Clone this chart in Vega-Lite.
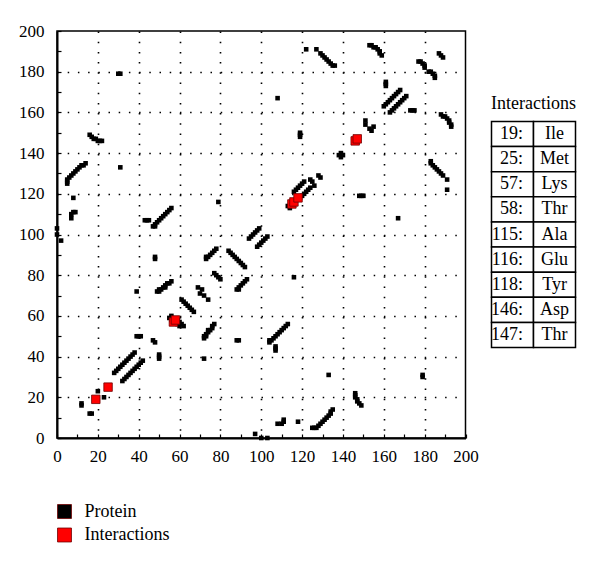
{
  "$schema": "https://vega.github.io/schema/vega-lite/v6.json",
  "background": "white",
  "padding": {"left": 17, "top": 21, "right": 5, "bottom": 5},
  "bounds": "flush",
  "center": true,
  "spacing": 25.5,
  "config": {
    "font": "Liberation Serif",
    "view": {"stroke": "black", "strokeWidth": 1.5}
  },
  "datasets": {
    "prot": [
      {"i":30,"j":179},{"i":31,"j":179},{"i":179,"j":30},{"i":179,"j":31},
      {"i":16,"j":149},{"i":17,"j":148},{"i":18,"j":147},{"i":19,"j":147},{"i":20,"j":146},{"i":21,"j":146},{"i":22,"j":146},
      {"i":149,"j":16},{"i":148,"j":17},{"i":147,"j":18},{"i":147,"j":19},{"i":146,"j":20},{"i":146,"j":21},{"i":146,"j":22},
      {"i":5,"j":125},{"i":5,"j":126},{"i":5,"j":127},{"i":6,"j":128},{"i":7,"j":129},{"i":8,"j":130},{"i":9,"j":131},{"i":10,"j":132},{"i":11,"j":133},{"i":12,"j":134},{"i":13,"j":134},{"i":14,"j":135},
      {"i":125,"j":5},{"i":126,"j":5},{"i":127,"j":5},{"i":128,"j":6},{"i":129,"j":7},{"i":130,"j":8},{"i":131,"j":9},{"i":132,"j":10},{"i":133,"j":11},{"i":134,"j":12},{"i":134,"j":13},{"i":135,"j":14},
      {"i":31,"j":133},{"i":133,"j":31},
      {"i":8,"j":118},{"i":118,"j":8},
      {"i":7,"j":108},{"i":7,"j":110},{"i":8,"j":111},{"i":9,"j":111},{"i":108,"j":7},{"i":110,"j":7},{"i":111,"j":8},{"i":111,"j":9},
      {"i":0,"j":103},{"i":0,"j":100},{"i":2,"j":97},{"i":103,"j":0},{"i":100,"j":0},{"i":97,"j":2},
      {"i":43,"j":107},{"i":44,"j":107},{"i":45,"j":107},{"i":107,"j":43},{"i":107,"j":44},{"i":107,"j":45},
      {"i":47,"j":104},{"i":48,"j":104},{"i":48,"j":105},{"i":49,"j":106},{"i":50,"j":107},{"i":51,"j":108},{"i":52,"j":109},{"i":53,"j":110},{"i":54,"j":111},{"i":55,"j":112},{"i":56,"j":113},
      {"i":104,"j":47},{"i":104,"j":48},{"i":105,"j":48},{"i":106,"j":49},{"i":107,"j":50},{"i":108,"j":51},{"i":109,"j":52},{"i":110,"j":53},{"i":111,"j":54},{"i":112,"j":55},{"i":113,"j":56},
      {"i":48,"j":88},{"i":48,"j":89},{"i":88,"j":48},{"i":89,"j":48},
      {"i":39,"j":72},{"i":72,"j":39},
      {"i":49,"j":72},{"i":50,"j":72},{"i":50,"j":73},{"i":51,"j":73},{"i":52,"j":74},{"i":53,"j":74},{"i":53,"j":75},{"i":54,"j":76},{"i":55,"j":76},{"i":56,"j":77},
      {"i":72,"j":49},{"i":72,"j":50},{"i":73,"j":50},{"i":73,"j":51},{"i":74,"j":52},{"i":74,"j":53},{"i":75,"j":53},{"i":76,"j":54},{"i":76,"j":55},{"i":77,"j":56},
      {"i":61,"j":68},{"i":62,"j":67},{"i":63,"j":66},{"i":64,"j":65},{"i":65,"j":64},{"i":66,"j":63},{"i":67,"j":62},
      {"i":69,"j":74},{"i":71,"j":73},{"i":70,"j":71},{"i":72,"j":70},{"i":74,"j":68},
      {"i":73,"j":88},{"i":73,"j":89},{"i":74,"j":89},{"i":75,"j":90},{"i":76,"j":91},{"i":77,"j":92},{"i":78,"j":93},
      {"i":88,"j":73},{"i":89,"j":73},{"i":89,"j":74},{"i":90,"j":75},{"i":91,"j":76},{"i":92,"j":77},{"i":93,"j":78},
      {"i":84,"j":92},{"i":85,"j":91},{"i":86,"j":90},{"i":87,"j":89},{"i":88,"j":88},{"i":89,"j":87},{"i":90,"j":86},{"i":91,"j":85},{"i":92,"j":84},
      {"i":77,"j":81},{"i":78,"j":80},{"i":79,"j":79},{"i":80,"j":78},
      {"i":79,"j":116},{"i":116,"j":79},
      {"i":94,"j":98},{"i":95,"j":99},{"i":96,"j":100},{"i":97,"j":101},{"i":98,"j":102},{"i":99,"j":103},
      {"i":98,"j":94},{"i":99,"j":95},{"i":100,"j":96},{"i":101,"j":97},{"i":102,"j":98},{"i":103,"j":99},
      {"i":108,"j":167},{"i":167,"j":108},
      {"i":119,"j":148},{"i":119,"j":149},{"i":119,"j":150},{"i":148,"j":119},{"i":149,"j":119},{"i":150,"j":119},
      {"i":122,"j":191},{"i":127,"j":191},{"i":129,"j":189},{"i":130,"j":188},{"i":131,"j":187},{"i":132,"j":186},{"i":133,"j":185},{"i":134,"j":184},{"i":135,"j":183},{"i":136,"j":183},
      {"i":191,"j":122},{"i":191,"j":127},{"i":189,"j":129},{"i":188,"j":130},{"i":187,"j":131},{"i":186,"j":132},{"i":185,"j":133},{"i":184,"j":134},{"i":183,"j":135},{"i":183,"j":136},
      {"i":153,"j":193},{"i":154,"j":193},{"i":155,"j":192},{"i":156,"j":192},{"i":157,"j":191},{"i":158,"j":190},{"i":158,"j":189},{"i":159,"j":188},
      {"i":193,"j":153},{"i":193,"j":154},{"i":192,"j":155},{"i":192,"j":156},{"i":191,"j":157},{"i":190,"j":158},{"i":189,"j":158},{"i":188,"j":159},
      {"i":187,"j":189},{"i":188,"j":188},{"i":189,"j":187},
      {"i":180,"j":182},{"i":180,"j":183},{"i":179,"j":184},{"i":178,"j":185},{"i":177,"j":185},
      {"i":182,"j":180},{"i":183,"j":180},{"i":184,"j":179},{"i":185,"j":178},{"i":185,"j":177},
      {"i":161,"j":173},{"i":161,"j":174},{"i":161,"j":175},{"i":173,"j":161},{"i":174,"j":161},{"i":175,"j":161},
      {"i":160,"j":163},{"i":161,"j":164},{"i":162,"j":165},{"i":163,"j":166},{"i":164,"j":167},{"i":165,"j":168},{"i":166,"j":169},{"i":167,"j":170},{"i":168,"j":171},
      {"i":163,"j":160},{"i":164,"j":161},{"i":165,"j":162},{"i":166,"j":163},{"i":167,"j":164},{"i":168,"j":165},{"i":169,"j":166},{"i":170,"j":167},{"i":171,"j":168},
      {"i":151,"j":156},{"i":151,"j":154},{"i":153,"j":152},{"i":154,"j":151},{"i":155,"j":153},
      {"i":138,"j":139},{"i":139,"j":140},{"i":140,"j":139},{"i":139,"j":138},
      {"i":113,"j":114},{"i":114,"j":113},
      {"i":116,"j":121},{"i":117,"j":122},{"i":118,"j":123},{"i":119,"j":124},{"i":120,"j":125},{"i":121,"j":126},
      {"i":119,"j":118},{"i":120,"j":119},{"i":121,"j":120},{"i":122,"j":121},{"i":123,"j":122},{"i":124,"j":123},
      {"i":124,"j":127},{"i":125,"j":126},{"i":126,"j":124},{"i":128,"j":129},{"i":129,"j":128},
      {"i":55,"j":59},{"i":56,"j":60},{"i":56,"j":58},{"i":59,"j":58},{"i":60,"j":57},{"i":61,"j":56},{"i":62,"j":55},{"i":59,"j":56},{"i":60,"j":55},
      {"i":12,"j":16},{"i":12,"j":17},{"i":16,"j":12},{"i":17,"j":12},
      {"i":20,"j":23},{"i":23,"j":20},
      {"i":28,"j":32},{"i":29,"j":33},{"i":30,"j":34},{"i":31,"j":35},{"i":32,"j":36},{"i":33,"j":37},{"i":34,"j":38},{"i":35,"j":39},{"i":36,"j":40},{"i":37,"j":41},{"i":38,"j":42},
      {"i":32,"j":28},{"i":33,"j":29},{"i":34,"j":30},{"i":35,"j":31},{"i":36,"j":32},{"i":37,"j":33},{"i":38,"j":34},{"i":39,"j":35},{"i":40,"j":36},{"i":41,"j":37},{"i":42,"j":38},
      {"i":39,"j":50},{"i":40,"j":50},{"i":41,"j":50},{"i":50,"j":39},{"i":50,"j":40},{"i":50,"j":41},
      {"i":47,"j":48},{"i":48,"j":47}
    ],
    "inter": [
      {"i":19,"j":19},{"i":25,"j":25},{"i":57,"j":57},{"i":58,"j":58},{"i":115,"j":115},{"i":116,"j":116},{"i":118,"j":118},{"i":146,"j":146},{"i":147,"j":147}
    ],
    "table": [
      {"res":19,"num":"19:","name":"Ile"},
      {"res":25,"num":"25:","name":"Met"},
      {"res":57,"num":"57:","name":"Lys"},
      {"res":58,"num":"58:","name":"Thr"},
      {"res":115,"num":"115:","name":"Ala"},
      {"res":116,"num":"116:","name":"Glu"},
      {"res":118,"num":"118:","name":"Tyr"},
      {"res":146,"num":"146:","name":"Asp"},
      {"res":147,"num":"147:","name":"Thr"}
    ]
  },
  "resolve": {"scale": {"color": "independent"}},
  "hconcat": [
    {
      "width": 408.5,
      "height": 407,
      "encoding": {
        "x": {
          "field": "i", "type": "quantitative",
          "scale": {"domain": [0, 200], "nice": false, "zero": false},
          "axis": {
            "title": null,
            "values": [0,10,20,30,40,50,60,70,80,90,100,110,120,130,140,150,160,170,180,190,200],
            "labelExpr": "datum.value % 20 === 0 ? datum.label : ''",
            "labelOverlap": false, "labelFlush": false,
            "labelFontSize": 17, "labelColor": "black", "labelPadding": 14,
            "tickSize": -4, "tickColor": "black", "tickWidth": 1.2,
            "domainColor": "black", "domainWidth": 2,
            "grid": true, "gridColor": "black", "gridDash": [1.5, 8.7], "gridWidth": 1.6,
            "gridOpacity": {"condition": {"test": "datum.value % 20 === 0 && datum.value > 0 && datum.value < 200", "value": 1}, "value": 0}
          }
        },
        "y": {
          "field": "j", "type": "quantitative",
          "scale": {"domain": [0, 200], "nice": false, "zero": false},
          "axis": {
            "title": null,
            "values": [0,10,20,30,40,50,60,70,80,90,100,110,120,130,140,150,160,170,180,190,200],
            "labelExpr": "datum.value % 20 === 0 ? datum.label : ''",
            "labelOverlap": false, "labelFlush": false,
            "labelFontSize": 17, "labelColor": "black", "labelPadding": 17,
            "tickSize": -4, "tickColor": "black", "tickWidth": 1.2,
            "domainColor": "black", "domainWidth": 2,
            "grid": true, "gridColor": "black", "gridDash": [1.5, 8.7], "gridWidth": 1.6,
            "gridOpacity": {"condition": {"test": "datum.value % 20 === 0 && datum.value > 0 && datum.value < 200", "value": 1}, "value": 0}
          }
        }
      },
      "layer": [
        {
          "data": {"name": "prot"},
          "mark": {"type": "square", "size": 21, "opacity": 1},
          "encoding": {
            "color": {
              "datum": "Protein", "type": "nominal",
              "scale": {"domain": ["Protein", "Interactions"], "range": ["black", "#ff0000"]},
              "legend": {
                "title": null, "orient": "none", "legendX": -1.5, "legendY": 471.5,
                "padding": 0, "symbolType": "square", "symbolSize": 195,
                "symbolStrokeColor": "#222222", "symbolStrokeWidth": 0.8,
                "labelFontSize": 18, "labelFont": "Liberation Serif", "labelColor": "black",
                "labelOffset": 11, "rowPadding": 5.5, "symbolOpacity": 1
              }
            }
          }
        },
        {
          "data": {"name": "inter"},
          "mark": {"type": "square", "size": 72, "opacity": 1, "stroke": "#700000", "strokeWidth": 0.8},
          "encoding": {
            "color": {"datum": "Interactions", "type": "nominal"}
          }
        }
      ]
    },
    {
      "width": 84,
      "height": 226,
      "view": {"stroke": null},
      "title": {"text": "Interactions", "fontSize": 18, "fontWeight": "normal", "font": "Liberation Serif", "color": "black", "anchor": "middle", "offset": 8},
      "data": {"name": "table"},
      "layer": [
        {
          "transform": [{"fold": ["num", "name"], "as": ["col", "val"]}],
          "mark": {"type": "rect", "fill": "white", "stroke": "black", "strokeWidth": 1.5},
          "encoding": {
            "x": {"field": "col", "type": "nominal", "axis": null, "scale": {"domain": ["num", "name"], "paddingInner": 0, "paddingOuter": 0}},
            "y": {"field": "res", "type": "ordinal", "axis": null, "scale": {"paddingInner": 0, "paddingOuter": 0}}
          }
        },
        {
          "mark": {"type": "text", "align": "right", "dx": 10.5, "baseline": "middle", "fontSize": 18, "font": "Liberation Serif", "color": "black"},
          "encoding": {
            "x": {"datum": "num", "type": "nominal"},
            "y": {"field": "res", "type": "ordinal"},
            "text": {"field": "num"}
          }
        },
        {
          "mark": {"type": "text", "align": "center", "baseline": "middle", "fontSize": 18, "font": "Liberation Serif", "color": "black"},
          "encoding": {
            "x": {"datum": "name", "type": "nominal"},
            "y": {"field": "res", "type": "ordinal"},
            "text": {"field": "name"}
          }
        }
      ]
    }
  ]
}
